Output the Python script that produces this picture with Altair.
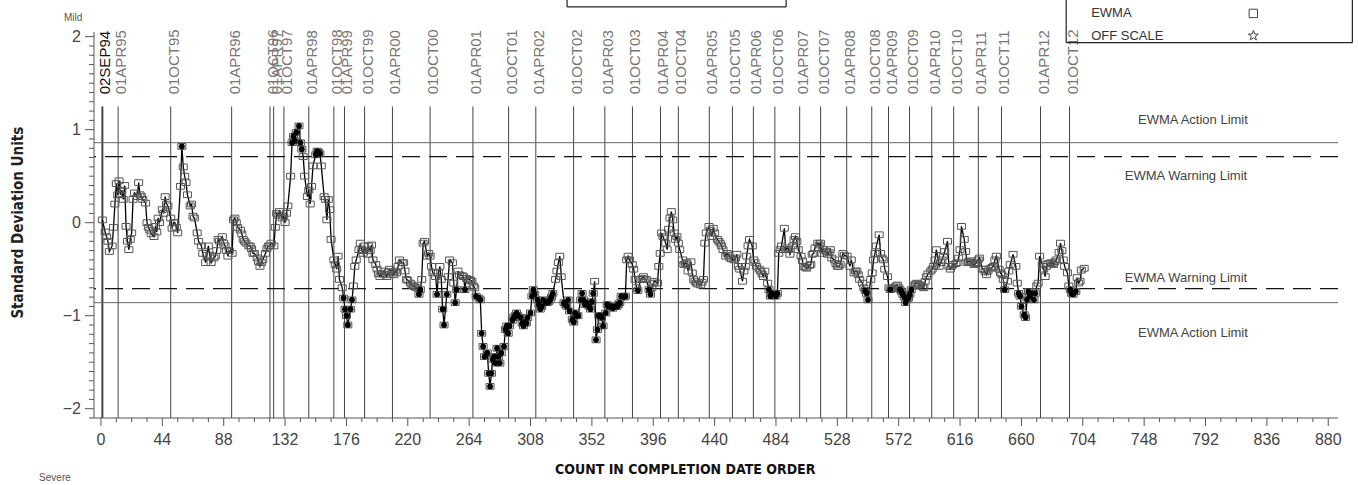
import altair as alt
import pandas as pd

# ---------------- data ----------------
c1 = [1, 3, 4, 5, 6, 8, 9, 10, 11, 12, 13, 14, 15, 16, 17, 18, 19, 20, 21, 22, 23, 24, 26, 27, 28, 29, 30,
      32, 33, 34, 35, 36, 38, 39, 40, 41, 42, 44, 45, 46, 47, 48, 50, 51, 52, 53, 54, 55, 57, 58, 59, 60,
      61, 62, 64, 65, 66, 67, 69, 70, 72, 73, 75, 76, 77, 78, 79, 81, 82, 83, 84, 85, 87, 88, 89, 90, 91,
      92, 94]
v1 = [0.03, -0.10, -0.15, -0.20, -0.31, -0.25, -0.05, 0.20, 0.42, 0.30, 0.45, 0.30, 0.35, 0.25, 0.40,
      -0.04, -0.20, -0.29, -0.18, -0.11, 0.25, 0.32, 0.28, 0.43, 0.30, 0.28, 0.25, 0.21, 0.00, -0.05, -0.08,
      -0.12, -0.15, -0.04, -0.10, 0.05, 0.00, 0.14, 0.10, 0.28, 0.20, 0.18, 0.05, -0.06, 0.00, 0.00, -0.05,
      -0.11, 0.39, 0.82, 0.60, 0.50, 0.43, 0.30, 0.18, 0.20, 0.07, 0.05, -0.11, -0.20, -0.25, -0.33, -0.43,
      -0.35, -0.25, -0.35, -0.43, -0.38, -0.36, -0.30, -0.18, -0.20, -0.15, -0.22, -0.25, -0.30, -0.36,
      -0.30, -0.33]

c2 = [95, 96, 97, 98, 100, 101, 102, 103, 104, 106, 107, 108, 109, 110, 112, 113, 114, 115, 116, 118, 119,
      120, 121, 122, 124, 125, 126, 127, 128, 130, 131, 132, 133, 134, 136, 137, 138, 139, 140, 142, 143,
      144, 145, 146, 148, 149, 150, 151, 152, 154, 155, 156, 157, 158, 160, 161, 162, 163, 164, 165, 167,
      168, 169, 170, 171, 173, 174, 175, 176, 177, 179, 180, 181, 182, 183, 185, 186, 187, 188, 189, 191,
      192, 193, 194, 195, 197, 198, 199, 200]
v2 = [0.03, 0.05, 0.00, -0.05, -0.08, -0.12, -0.18, -0.20, -0.22, -0.25, -0.25, -0.28, -0.33, -0.33, -0.38,
      -0.42, -0.47, -0.43, -0.40, -0.33, -0.28, -0.25, -0.25, -0.22, -0.25, -0.05, 0.10, 0.08, 0.12, 0.05,
      0.07, 0.00, 0.10, 0.18, 0.50, 0.86, 0.93, 0.88, 0.97, 1.04, 0.86, 0.79, 0.71, 0.50, 0.28, 0.35, 0.20,
      0.39, 0.61, 0.73, 0.77, 0.76, 0.74, 0.61, 0.28, 0.25, 0.03, 0.25, 0.14, -0.18, -0.40, -0.45, -0.50,
      -0.36, -0.61, -0.70, -0.81, -0.93, -1.00, -1.10, -0.93, -0.83, -0.68, -0.47, -0.40, -0.29, -0.22,
      -0.30, -0.33, -0.25, -0.34, -0.25, -0.30, -0.24, -0.40, -0.45, -0.50, -0.55, -0.58]

c3 = [201, 203, 204, 205, 206, 207, 209, 210, 211, 212, 213, 214, 216, 217, 218, 219, 220, 222, 223, 224,
      225, 226, 228, 229, 230, 231, 232, 234, 235, 236, 237, 238, 240, 241, 242, 243, 244, 245, 246, 248,
      249, 250, 252, 253, 254, 255, 256, 257, 259, 260, 261, 262, 264, 265, 266, 267, 268, 269, 271, 272,
      273, 274, 275, 277, 278, 279, 280, 281, 282, 283, 284, 285, 286, 287, 289, 290, 291, 292, 293, 295,
      296, 297, 298, 299, 301, 302, 303, 304, 305, 306, 308, 309, 310, 311, 313, 314, 315, 316, 317, 319,
      320, 321, 322, 323, 324, 326, 327, 328, 329, 330, 332, 333, 334, 335, 336, 338, 339, 340, 341, 342,
      344, 345, 346, 347, 348, 350, 351, 352, 353, 354, 355, 356, 357, 358, 359, 360, 362, 363, 364, 365,
      366, 367, 369, 370, 371, 372, 373, 375, 376, 377, 378, 379, 381, 382, 383, 384, 385, 387, 388, 389,
      390, 391, 393, 394, 395, 396, 397, 399, 400]
v3 = [-0.55, -0.52, -0.56, -0.58, -0.53, -0.50, -0.54, -0.56, -0.52, -0.54, -0.47, -0.40, -0.43, -0.43,
      -0.52, -0.61, -0.62, -0.65, -0.67, -0.68, -0.69, -0.70, -0.77, -0.72, -0.61, -0.22, -0.20, -0.36,
      -0.33, -0.36, -0.47, -0.54, -0.58, -0.77, -0.54, -0.47, -0.61, -0.93, -1.10, -0.77, -0.58, -0.40,
      -0.43, -0.65, -0.86, -0.72, -0.52, -0.56, -0.57, -0.58, -0.72, -0.60, -0.61, -0.62, -0.63, -0.68,
      -0.70, -0.79, -0.81, -0.83, -1.19, -1.33, -1.44, -1.40, -1.62, -1.76, -1.62, -1.47, -1.44, -1.51,
      -1.35, -1.44, -1.51, -1.40, -1.33, -1.15, -1.11, -1.19, -1.11, -1.05, -1.02, -1.00, -0.97, -1.00,
      -1.02, -1.08, -1.11, -1.07, -1.08, -1.02, -0.97, -0.79, -0.72, -0.77, -0.83, -0.88, -0.93, -0.90,
      -0.83, -0.86, -0.86, -0.85, -0.83, -0.80, -0.76, -0.61, -0.52, -0.43, -0.36, -0.58, -0.86, -0.88,
      -0.90, -0.83, -0.95, -1.04, -1.07, -0.97, -1.00, -1.00, -0.83, -0.76, -0.83, -0.88, -0.86, -0.90,
      -0.93, -0.85, -0.76, -0.63, -1.26, -1.15, -1.00, -1.00, -1.02, -1.11, -0.97, -0.88, -0.90, -0.90,
      -0.90, -0.92, -0.90, -0.90, -0.88, -0.86, -0.79, -0.80, -0.79, -0.40, -0.36, -0.40, -0.45, -0.50,
      -0.61, -0.70, -0.73, -0.61, -0.60, -0.58, -0.61, -0.61, -0.72, -0.77, -0.70, -0.65, -0.63, -0.65,
      -0.47]

c4 = [401, 402, 403, 405, 406, 407, 408, 409, 410, 411, 412, 413, 414, 415, 417, 418, 419, 420, 421, 423,
      424, 425, 426, 427, 428, 430, 431, 432, 433, 434, 436, 437, 438, 439, 440, 442, 443, 444, 445, 446,
      448, 449, 450, 451, 452, 454, 455, 456, 457, 458, 460, 461, 462, 463, 464, 465, 467, 468, 469, 470,
      472, 473, 474, 475, 476, 478, 479, 480, 481, 482, 484, 485, 486, 487, 488, 490, 491, 492, 493, 494,
      496, 497, 498, 499, 500, 502, 503, 504, 505, 506, 508, 509, 510, 511, 512, 514, 515, 516, 517, 518,
      520, 521, 522, 523, 524, 526, 527, 528, 529, 530]
v4 = [-0.33, -0.11, -0.15, -0.22, -0.29, -0.07, 0.05, 0.12, 0.03, -0.11, -0.18, -0.15, -0.22, -0.29,
      -0.40, -0.45, -0.44, -0.43, -0.52, -0.42, -0.54, -0.61, -0.63, -0.65, -0.66, -0.67, -0.64, -0.61,
      -0.22, -0.11, -0.04, -0.08, -0.15, -0.06, -0.11, -0.18, -0.20, -0.22, -0.25, -0.29, -0.36, -0.33,
      -0.35, -0.38, -0.39, -0.40, -0.38, -0.34, -0.47, -0.50, -0.63, -0.52, -0.47, -0.36, -0.25, -0.18,
      -0.25, -0.40, -0.43, -0.47, -0.50, -0.52, -0.55, -0.58, -0.52, -0.65, -0.72, -0.79, -0.76, -0.77,
      -0.79, -0.76, -0.33, -0.29, -0.25, -0.06, -0.29, -0.27, -0.29, -0.34, -0.25, -0.18, -0.15, -0.20,
      -0.29, -0.36, -0.41, -0.47, -0.48, -0.49, -0.46, -0.45, -0.34, -0.33, -0.27, -0.22, -0.24, -0.22,
      -0.33, -0.29, -0.31, -0.34, -0.32, -0.29, -0.38, -0.40, -0.44, -0.47, -0.47, -0.45]

c5 = [532, 533, 535, 537, 538, 540, 541, 542, 543, 544, 546, 547, 548, 549, 550, 552, 553, 554, 555, 556,
      558, 559, 560, 561, 562, 564, 565, 566, 567, 568, 570, 571, 572, 573, 574, 575, 576, 577, 578, 579,
      580, 581, 583, 584, 585, 586, 587, 589, 590, 591, 592, 593, 595, 596, 597, 598, 599, 601, 602, 603,
      604, 605, 607, 608, 609, 610, 611, 613, 614, 615, 616, 617, 619, 620, 621, 622, 623, 624, 626, 627,
      628, 629, 630, 632, 633, 634, 635, 636, 638, 639, 640, 641, 642, 644, 645, 646, 647, 648, 650, 651,
      652, 654, 656, 657, 658, 659, 660, 662, 663, 664, 665, 666, 667, 669, 670, 671, 672, 673, 675, 676,
      677, 678, 679, 681, 682, 683, 684, 685, 687, 688, 689, 690, 691, 693, 694, 695, 696, 697, 699, 700,
      701, 702, 703, 705]
v5 = [-0.33, -0.35, -0.36, -0.47, -0.40, -0.54, -0.52, -0.52, -0.56, -0.61, -0.65, -0.70, -0.73, -0.76,
      -0.83, -0.61, -0.54, -0.40, -0.33, -0.25, -0.13, -0.33, -0.38, -0.40, -0.50, -0.58, -0.70, -0.72,
      -0.71, -0.70, -0.68, -0.67, -0.70, -0.72, -0.74, -0.77, -0.80, -0.86, -0.82, -0.81, -0.77, -0.72,
      -0.68, -0.66, -0.65, -0.66, -0.67, -0.69, -0.70, -0.63, -0.58, -0.55, -0.52, -0.50, -0.47, -0.40,
      -0.29, -0.47, -0.43, -0.40, -0.36, -0.31, -0.20, -0.47, -0.50, -0.47, -0.45, -0.44, -0.43, -0.38,
      -0.29, -0.04, -0.18, -0.31, -0.43, -0.42, -0.41, -0.43, -0.45, -0.44, -0.43, -0.40, -0.38, -0.50,
      -0.50, -0.53, -0.56, -0.52, -0.49, -0.48, -0.47, -0.40, -0.36, -0.50, -0.54, -0.56, -0.61, -0.72,
      -0.63, -0.52, -0.45, -0.34, -0.47, -0.65, -0.76, -0.79, -0.90, -0.99, -1.02, -0.83, -0.74, -0.79,
      -0.76, -0.83, -0.76, -0.68, -0.65, -0.36, -0.45, -0.50, -0.58, -0.47, -0.44, -0.43, -0.44, -0.45,
      -0.42, -0.40, -0.32, -0.22, -0.30, -0.40, -0.47, -0.54, -0.68, -0.72, -0.76, -0.77, -0.74, -0.59,
      -0.65, -0.63, -0.51, -0.49]

date_labels = ["02SEP94", "01APR95", "01OCT95", "01APR96", "01OCT96", "01APR97", "01OCT97", "01APR98",
               "01OCT98", "01APR99", "01OCT99", "01APR00", "01OCT00", "01APR01", "01OCT01", "01APR02",
               "01OCT02", "01APR03", "01OCT03", "01APR04", "01OCT04", "01APR05", "01OCT05", "01APR06",
               "01OCT06", "01APR07", "01OCT07", "01APR08", "01OCT08", "01APR09", "01OCT09", "01APR10",
               "01OCT10", "01APR11", "01OCT11", "01APR12", "01OCT12"]
date_counts = [1, 12.3, 50, 93.7, 121.2, 123.8, 131.2, 149, 167, 174.6, 189, 209, 236, 266.7, 292.3, 311.8,
               338.9, 361.3, 381.1, 401.2, 414, 436.2, 452.8, 467.8, 483.2, 501, 516, 534.7, 552.7, 564.7,
               579.8, 595.7, 611.4, 629.1, 645.7, 673.7, 694.5]

action_limit = 0.86
warning_limit = 0.71

limit_texts = ["EWMA Action Limit", "EWMA Warning Limit", "EWMA Warning Limit", "EWMA Action Limit"]
limit_text_counts = [783, 778, 778, 783]
limit_text_values = [1.10, 0.505, -0.60, -1.19]

legend_texts = ["EWMA", "OFF SCALE"]
legend_text_values = [2.25, 2.01]

corner_texts = ["Mild", "Severe"]
corner_counts = [-20, -33]
corner_values = [2.2, -2.74]

# box outlines (title box top-centre, legend box top-right); tops run off the page
box_left = [334.2, 692.1]
box_right = [491.3, 897.3]
box_bottom = [2.32, 1.935]
box_top = 2.6

# axes
x_domain = [-5, 887]
y_domain = [-2.10, 2.05]
x_major_ticks = list(range(0, 881, 44))
x_minor_ticks = [t for t in range(0, 881, 11) if t % 44 != 0]
y_major_ticks = [-2, -1, 0, 1, 2]
y_major_labels = ["\u22122", "\u22121", "0", "1", "2"]
y_minor_ticks = [round(i / 10, 1) for i in range(-21, 21) if i % 10 != 0]
x_title = "COUNT IN COMPLETION DATE ORDER"
y_title = "Standard Deviation Units"

STAR_PATH = ("M0,-1L0.235,-0.324L0.951,-0.309L0.38,0.124L0.588,0.809L0,0.4"
             "L-0.588,0.809L-0.38,0.124L-0.951,-0.309L-0.235,-0.324Z")
RECT_PATH = "M-1,-0.72L1,-0.72L1,0.72L-1,0.72Z"

# ---------------- tables ----------------
df = pd.DataFrame({"count": c1 + c2 + c3 + c4 + c5, "ewma": v1 + v2 + v3 + v4 + v5})
beyond_df = df[df["ewma"].abs() > warning_limit]

dates_df = pd.DataFrame({"count": date_counts, "label": date_labels})
dates_df["top"] = 1.25
dates_df["bottom"] = y_domain[0]
dates_df["labely"] = 1.38
action_df = pd.DataFrame({"v": [action_limit, -action_limit]})
warning_df = pd.DataFrame({"v": [warning_limit, -warning_limit]})
limit_text_df = pd.DataFrame({"count": limit_text_counts, "v": limit_text_values, "t": limit_texts})
legend_df = pd.DataFrame({"t": legend_texts, "v": legend_text_values, "count": [710, 710], "sym": [826.3, 826.3]})
segs = []
for l, r, b in zip(box_left, box_right, box_bottom):
    segs.append({"xa": l, "xb": l, "ya": b, "yb": box_top})
    segs.append({"xa": r, "xb": r, "ya": b, "yb": box_top})
    segs.append({"xa": l, "xb": r, "ya": b, "yb": b})
box_df = pd.DataFrame(segs)
corner_df = pd.DataFrame({"t": corner_texts, "count": corner_counts, "v": corner_values})

axis_lines_df = pd.DataFrame({
    "xa": [x_domain[0], x_domain[0]], "xb": [x_domain[1], x_domain[0]],
    "ya": [y_domain[0], y_domain[0]], "yb": [y_domain[0], y_domain[1]],
})
xmaj_df = pd.DataFrame({"t": x_major_ticks, "y": y_domain[0], "label": [str(t) for t in x_major_ticks]})
xmin_df = pd.DataFrame({"t": x_minor_ticks, "y": y_domain[0]})
ymaj_df = pd.DataFrame({"t": y_major_ticks, "x": x_domain[0], "label": y_major_labels})
ymin_df = pd.DataFrame({"t": y_minor_ticks, "x": x_domain[0]})
titles_df = pd.DataFrame({"x": [418.9, x_domain[0]], "y": [y_domain[0], 0.0], "t": [x_title, y_title]})

XS = alt.Scale(domain=x_domain, nice=False, zero=False)
YS = alt.Scale(domain=y_domain, nice=False, zero=False)

TICK_FONT = "'Liberation Sans Narrow', 'Liberation Sans', sans-serif"
TITLE_FONT = "'Liberation Sans Narrow', 'DejaVu Sans Condensed', 'Liberation Sans', sans-serif"
THIN_FONT = "'Liberation Sans', sans-serif"
AXIS_COLOR = "#555"


def X(field):
    return alt.X(field, type="quantitative", scale=XS, axis=None)


def Y(field):
    return alt.Y(field, type="quantitative", scale=YS, axis=None)


# ---------------- layers ----------------
date_rules = alt.Chart(dates_df).mark_rule(color="#444").encode(
    x=X("count"), y=Y("top"), y2="bottom:Q",
    strokeWidth=alt.condition("datum.label == '02SEP94'", alt.value(2), alt.value(1)),
)
date_text = alt.Chart(dates_df).mark_text(
    angle=270, align="left", baseline="middle", dy=3, font=THIN_FONT, fontSize=15,
).encode(
    x=X("count"), y=Y("labely"), text="label:N",
    color=alt.condition("datum.label == '02SEP94'", alt.value("#111"), alt.value("#777")),
)
action_rules = alt.Chart(action_df).mark_rule(color="#666", strokeWidth=1).encode(y=Y("v"))
warning_rules = alt.Chart(warning_df).mark_rule(color="#111", strokeWidth=1.3, strokeDash=[18, 9]).encode(y=Y("v"))
limit_labels = alt.Chart(limit_text_df).mark_text(
    font=THIN_FONT, fontSize=13, color="#444", align="center", baseline="middle"
).encode(x=X("count"), y=Y("v"), text="t:N")

line = alt.Chart(df).mark_line(color="black", strokeWidth=1.3).encode(x=X("count"), y=Y("ewma"))
squares = alt.Chart(df).mark_point(
    shape=RECT_PATH, filled=False, size=64, color="#555", strokeWidth=1, opacity=1
).encode(x=X("count"), y=Y("ewma"))
dots = alt.Chart(beyond_df).mark_circle(size=34, color="black", opacity=1).encode(x=X("count"), y=Y("ewma"))

boxes = alt.Chart(box_df).mark_rule(color="#222", strokeWidth=1.2).encode(
    x=X("xa"), x2="xb:Q", y=Y("ya"), y2="yb:Q"
)
legend_text = alt.Chart(legend_df).mark_text(
    font=THIN_FONT, fontSize=13, color="#333", align="left", baseline="middle"
).encode(x=X("count"), y=Y("v"), text="t:N")
legend_square = alt.Chart(legend_df.iloc[[0]]).mark_point(
    shape="M-1,-1L1,-1L1,1L-1,1Z", filled=False, size=70, color="#444", strokeWidth=1, opacity=1
).encode(x=X("sym"), y=Y("v"))
legend_star = alt.Chart(legend_df.iloc[[1]]).mark_point(
    shape=STAR_PATH, filled=False, size=110, color="#444", strokeWidth=1, opacity=1
).encode(x=X("sym"), y=Y("v"))
corner_text = alt.Chart(corner_df).mark_text(
    font=THIN_FONT, fontSize=10, color="#555", align="center", baseline="middle"
).encode(x=X("count"), y=Y("v"), text="t:N")

# axes built on the same scales
axis_lines = alt.Chart(axis_lines_df).mark_rule(color=AXIS_COLOR, strokeWidth=1).encode(
    x=X("xa"), x2="xb:Q", y=Y("ya"), y2="yb:Q"
)
x_major = alt.Chart(xmaj_df).mark_tick(orient="vertical", size=8, thickness=1, yOffset=4, color=AXIS_COLOR, opacity=1).encode(
    x=X("t"), y=Y("y")
)
x_minor = alt.Chart(xmin_df).mark_tick(orient="vertical", size=4, thickness=1, yOffset=2, color=AXIS_COLOR, opacity=1).encode(
    x=X("t"), y=Y("y")
)
x_labels = alt.Chart(xmaj_df).mark_text(
    font=TICK_FONT, fontSize=16, color="#444", align="center", baseline="middle", dy=22
).encode(x=X("t"), y=Y("y"), text="label:N")
y_major = alt.Chart(ymaj_df).mark_tick(orient="horizontal", size=9, thickness=1, xOffset=-4.5, color=AXIS_COLOR, opacity=1).encode(
    x=X("x"), y=Y("t")
)
y_minor = alt.Chart(ymin_df).mark_tick(orient="horizontal", size=5, thickness=1, xOffset=-2.5, color=AXIS_COLOR, opacity=1).encode(
    x=X("x"), y=Y("t")
)
y_labels = alt.Chart(ymaj_df).mark_text(
    font=TICK_FONT, fontSize=16, color="#444", align="right", baseline="middle", dx=-13
).encode(x=X("x"), y=Y("t"), text="label:N")
x_title_mark = alt.Chart(titles_df.iloc[[0]]).mark_text(
    font=TITLE_FONT, fontSize=14, fontWeight="bold", color="#111", align="center", baseline="middle", dy=52
).encode(x=X("x"), y=Y("y"), text="t:N")
y_title_mark = alt.Chart(titles_df.iloc[[1]]).mark_text(
    font=TITLE_FONT, fontSize=15, fontWeight="bold", color="#222", align="center", baseline="middle",
    angle=270, dy=-76
).encode(x=X("x"), y=Y("y"), text="t:N")

chart = alt.layer(
    date_rules, date_text, action_rules, warning_rules, limit_labels,
    line, squares, dots, boxes, legend_text, legend_square, legend_star, corner_text,
    axis_lines, x_major, x_minor, x_labels, y_major, y_minor, y_labels, x_title_mark, y_title_mark,
).properties(
    width=1244, height=386,
    autosize=alt.AutoSizeParams(type="none"),
    padding={"left": 94, "top": 32, "right": 20, "bottom": 67},
    background="white",
).configure_view(stroke=None)

chart.save("out.html", embed_options={"renderer": "svg", "actions": False})
